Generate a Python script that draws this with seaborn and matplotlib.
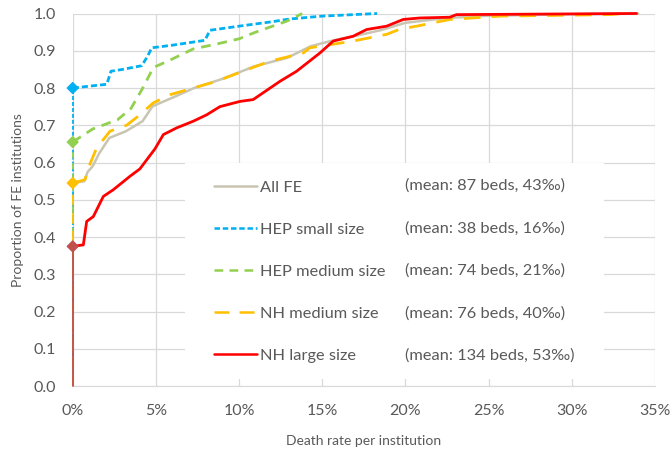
import numpy as np
import pandas as pd
import matplotlib
matplotlib.use("Agg")
import matplotlib.pyplot as plt
from matplotlib.patches import Rectangle
import seaborn as sns

# death rate (%) / cumulative proportion
all_x = [0, 0.7, 0.9, 1.2, 1.6, 2.2, 3.2, 4.2, 4.8, 6.2, 7.3, 8.9, 10.0, 10.9, 12.9, 14.3, 15.5, 16.9, 18.5, 20.0, 22.5, 25.0, 30.0, 34.0]
all_y = [0.545, 0.55, 0.575, 0.59, 0.625, 0.666, 0.684, 0.711, 0.751, 0.778, 0.80, 0.823, 0.842, 0.858, 0.881, 0.912, 0.926, 0.939, 0.955, 0.975, 0.988, 0.994, 0.998, 1.0]

hep_s_x = [0, 1.0, 2.05, 2.3, 3.0, 4.15, 4.5, 4.75, 6.0, 7.95, 8.25, 10.0, 12.0, 13.0, 15.0, 18.3]
hep_s_y = [0.80, 0.805, 0.81, 0.845, 0.85, 0.86, 0.885, 0.908, 0.915, 0.928, 0.955, 0.966, 0.978, 0.985, 0.993, 1.0]

hep_m_x = [0, 1.2, 2.7, 3.5, 4.15, 4.85, 5.85, 7.25, 8.65, 10.0, 11.0, 12.9, 13.8]
hep_m_y = [0.655, 0.69, 0.715, 0.745, 0.795, 0.855, 0.875, 0.905, 0.918, 0.932, 0.95, 0.98, 1.0]

nh_m_x = [0, 0.74, 0.94, 1.14, 1.44, 2.24, 3.24, 4.04, 4.84, 5.85, 7.25, 8.65, 10.05, 11.85, 13.86, 14.26, 16.86, 18.87, 19.67, 20.67, 22.67, 25.7, 32.3, 33.2]
nh_m_y = [0.545, 0.554, 0.585, 0.607, 0.639, 0.684, 0.70, 0.728, 0.76, 0.782, 0.80, 0.818, 0.842, 0.872, 0.894, 0.908, 0.926, 0.944, 0.958, 0.966, 0.984, 0.993, 0.997, 1.0]

nh_l_x = [0, 0.64, 0.84, 1.24, 1.44, 1.84, 2.44, 3.44, 4.04, 4.95, 5.45, 6.25, 7.25, 8.05, 8.85, 10.05, 10.85, 12.46, 13.46, 14.86, 15.66, 16.86, 17.67, 18.87, 19.87, 20.87, 22.67, 23.07, 33.9]
nh_l_y = [0.375, 0.379, 0.442, 0.455, 0.473, 0.509, 0.527, 0.563, 0.583, 0.637, 0.675, 0.693, 0.711, 0.728, 0.75, 0.764, 0.769, 0.818, 0.845, 0.894, 0.926, 0.939, 0.957, 0.966, 0.984, 0.988, 0.99, 0.997, 1.0]

labels = ["All FE", "HEP small size", "HEP medium size", "NH medium size", "NH large size"]
means = ["(mean: 87 beds, 43\u2030)", "(mean: 38 beds, 16\u2030)", "(mean: 74 beds, 21\u2030)",
         "(mean: 76 beds, 40\u2030)", "(mean: 134 beds, 53\u2030)"]
colors = ["#c9c5b3", "#00b0f0", "#92d050", "#ffc000", "#ff0000"]
dashes = [(None, None), (2.2, 1.1), (3.5, 2.5), (6, 4), (None, None)]
start_colors = ["#00b0f0", "#92d050", "#ffc000", "#c0504d"]

xs = [all_x, hep_s_x, hep_m_x, nh_m_x, nh_l_x]
ys = [all_y, hep_s_y, hep_m_y, nh_m_y, nh_l_y]

sns.set_style("white")
plt.rcParams['font.family'] = ['Lato', 'DejaVu Sans']

fig = plt.figure(figsize=(6.7, 4.5), dpi=100)
ax = fig.add_axes([0.1085, 0.142, 0.869, 0.828])

# vertical start lines at 0%
for i, c in zip([1, 2, 3, 4], start_colors):
    ls = (0, dashes[i]) if dashes[i][0] else "-"
    ax.plot([0, 0], [0, ys[i][0]], color=c, lw=1.3, ls=ls, clip_on=False, zorder=3)

handles = []
for x, y, lab, c, d in zip(xs, ys, labels, colors, dashes):
    df = pd.DataFrame({"x": np.array(x) / 100, "y": y})
    sns.lineplot(data=df, x="x", y="y", sort=False, ax=ax, color=c, lw=2 if lab != "All FE" else 1.8,
                 zorder=4, clip_on=False)
    ln = ax.lines[-1]
    if d[0]:
        ln.set_dashes(d)
    handles.append(ln)

# diamond markers at start
ax.scatter([0, 0, 0, 0], [hep_s_y[0], hep_m_y[0], nh_m_y[0], nh_l_y[0]], marker="D", s=30,
           c=start_colors, zorder=6, clip_on=False)

ax.set_xlim(0, 0.35)
ax.set_ylim(0, 1.0)
ax.set_xticks(np.arange(0, 0.351, 0.05))
ax.set_xticklabels([f"{int(v)}%" for v in np.arange(0, 36, 5)])
ax.set_yticks(np.arange(0, 1.01, 0.1))
ax.set_yticklabels([f"{v:.1f}" for v in np.arange(0, 1.01, 0.1)])
ax.grid(True, color="#d9d9d9", lw=0.9)
for s in ["top", "right", "left"]:
    ax.spines[s].set_visible(False)
ax.spines["bottom"].set_color("#d9d9d9")
ax.tick_params(axis="x", colors="#595959", labelsize=11.5, length=4, width=0.8, color="#d9d9d9", pad=9)
ax.tick_params(axis="y", colors="#595959", labelsize=11.5, length=0, pad=12)
ax.set_xlabel("Death rate per institution", color="#595959", fontsize=10, labelpad=12)
ax.set_ylabel("Proportion of FE institutions", color="#595959", fontsize=10, labelpad=7)

# white box behind the legend and the mean notes
ax.add_patch(Rectangle((0.193, 0.02), 0.72, 0.579, transform=ax.transAxes,
                       facecolor="white", edgecolor="none", zorder=1))

leg = ax.legend(handles, labels, loc="upper left", bbox_to_anchor=(0.226, 0.578), frameon=False,
                handlelength=2.6, handletextpad=0.2, labelspacing=1.68, fontsize=11.8,
                borderpad=0.6, borderaxespad=0)
for t in leg.get_texts():
    t.set_color("#595959")
for lh in leg.get_lines():
    lh.set_linewidth(1.8)

row_y = [0.537, 0.424, 0.311, 0.196, 0.083]
for m, yy in zip(means, row_y):
    ax.text(0.570, yy, m, transform=ax.transAxes, fontsize=11.8, color="#595959", va="center", zorder=7)

fig.savefig("out.png", dpi=100)
